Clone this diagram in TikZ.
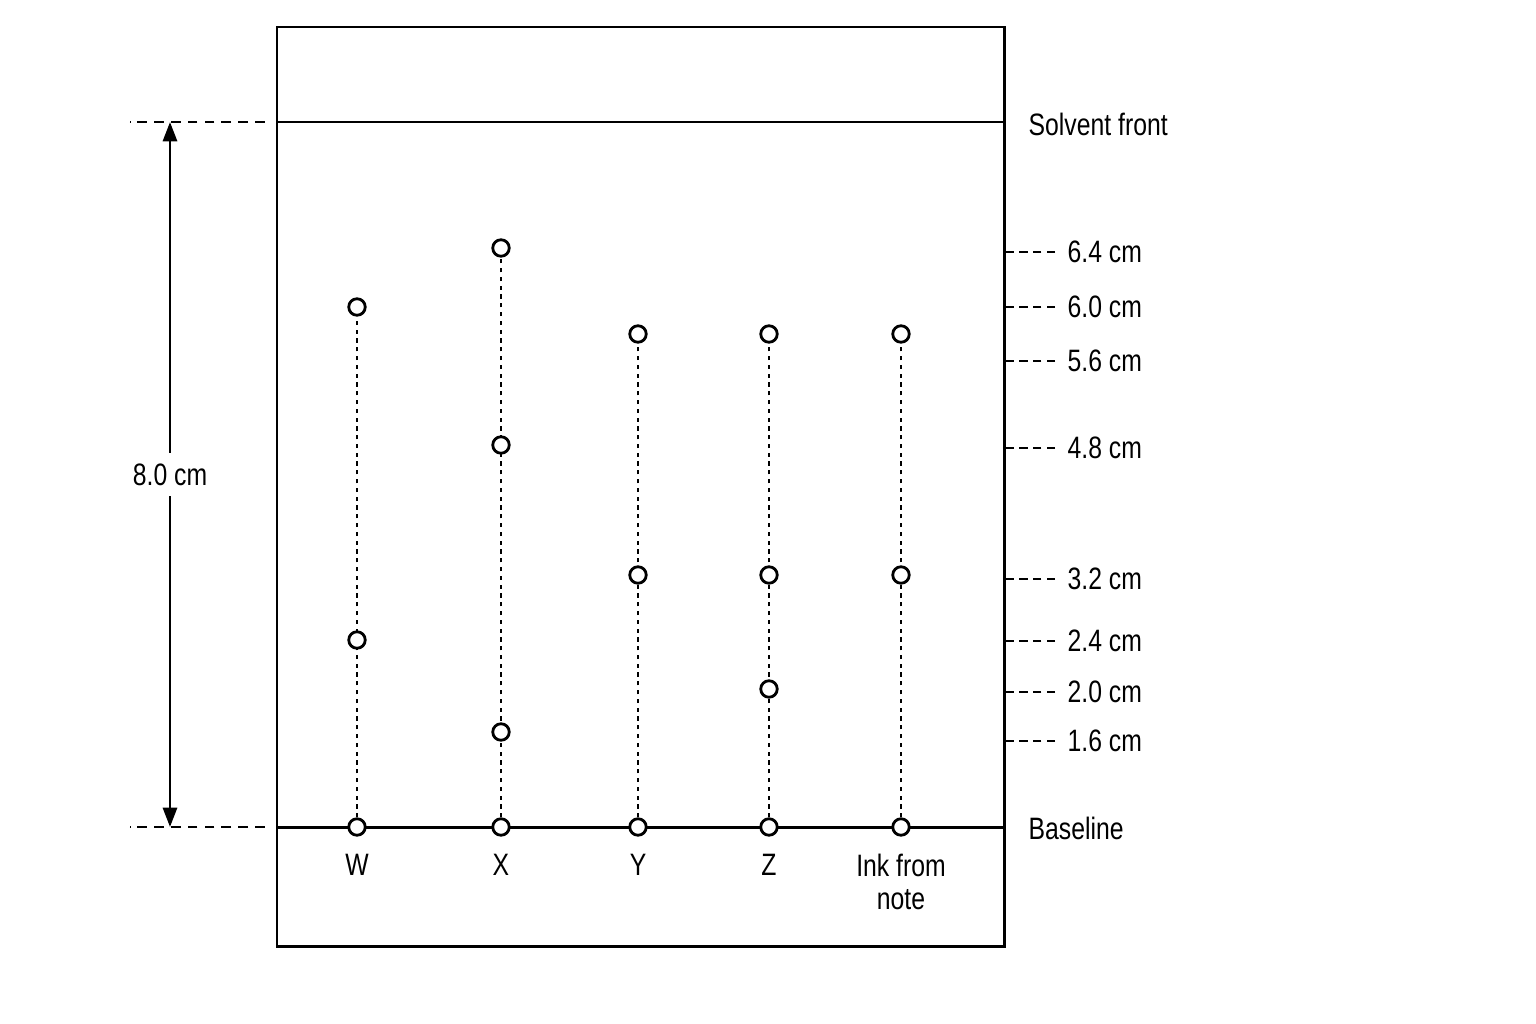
\documentclass[tikz,border=0pt]{standalone}
\usepackage{fontspec}
\setmainfont{Liberation Sans}[FakeStretch=0.8]
\usetikzlibrary{arrows.meta,backgrounds,positioning}

\begin{document}
\begin{tikzpicture}
    [x=0.01cm,y=-0.01cm,
     spot/.style={circle,draw,fill=white,line width=0.8pt,minimum size=0.165cm,inner sep=0pt},
     run/.style={line width=0.6pt,dash pattern=on 1.2pt off 1.3pt},
     guide/.style={line width=0.6pt,dash pattern=on 2.8pt off 2pt},
     tickline/.style={line width=0.6pt,dash pattern=on 2.3pt off 1.6pt},
     lbl/.style={inner sep=0pt,font=\fontsize{8.8}{9.4}\selectfont},
     dim/.style={line width=0.8pt,{Triangle[length=5.5pt,width=4pt]}-{Triangle[length=5.5pt,width=4pt]}}]

    % plate
    \draw[line width=0.85pt] (277,27) rectangle (1004,946);
    \coordinate (frontL) at (277,122);
    \coordinate (frontR) at (1004,122);
    \coordinate (baseL) at (277,827);
    \coordinate (baseR) at (1004,827);
    \draw[line width=0.85pt] (frontL) -- (frontR);
    \draw[line width=0.85pt] (baseL) -- (baseR);
    \node[lbl,anchor=west] (front) at (1028,124) {Solvent front};
    \node[lbl,anchor=west] (base) at (1028,828) {Baseline};

    % spots on the baseline
    \foreach \n/\x in {W/357,X/501,Y/638,Z/769,I/901}
        \node[spot] (\n0) at (\x,827) {};

    % separated spots
    \node[spot] (W1) at (357,307) {};
    \node[spot] (W2) at (357,640) {};
    \node[spot] (X1) at (501,248) {};
    \node[spot] (X2) at (501,445) {};
    \node[spot] (X3) at (501,732) {};
    \node[spot] (Y1) at (638,334) {};
    \node[spot] (Y2) at (638,575) {};
    \node[spot] (Z1) at (769,334) {};
    \node[spot] (Z2) at (769,575) {};
    \node[spot] (Z3) at (769,689) {};
    \node[spot] (I1) at (901,334) {};
    \node[spot] (I2) at (901,575) {};

    \begin{scope}[on background layer]
        \foreach \n in {W,X,Y,Z,I}
            \draw[run] (\n0) -- (\n1);
    \end{scope}

    % sample names
    \node[lbl,below=0.17cm of W0] (Wname) {W};
    \node[lbl,below=0.17cm of X0] (Xname) {X};
    \node[lbl,below=0.17cm of Y0] (Yname) {Y};
    \node[lbl,below=0.17cm of Z0] (Zname) {Z};
    \node[lbl,below=0.17cm of I0,align=center] (Iname) {Ink from\\note};

    % distance from baseline to solvent front
    \draw[guide] ([xshift=-0.12cm]frontL) -- ([xshift=-1.47cm]frontL);
    \draw[guide] ([xshift=-0.12cm]baseL) -- ([xshift=-1.47cm]baseL);
    \coordinate (dimtop) at (170,122);
    \coordinate (dimbot) at (170,827);
    \draw[dim] (dimtop) -- (dimbot)
        node[midway,lbl,fill=white,inner xsep=1pt,inner ysep=3pt] (dist) {8.0 cm};

    % distances travelled
    \foreach \y/\v [count=\i] in {252/6.4,307/6.0,361/5.6,448/4.8,579/3.2,641/2.4,692/2.0,741/1.6}
    {
        \node[lbl,anchor=west] (t\i) at (1067,\y) {\v\ cm};
        \draw[tickline] ([xshift=-0.12cm]t\i.west) -- ++(-49,0);
    }

    \pgfresetboundingbox
    \useasboundingbox (0,0) rectangle (1536,1024);
\end{tikzpicture}
\end{document}
